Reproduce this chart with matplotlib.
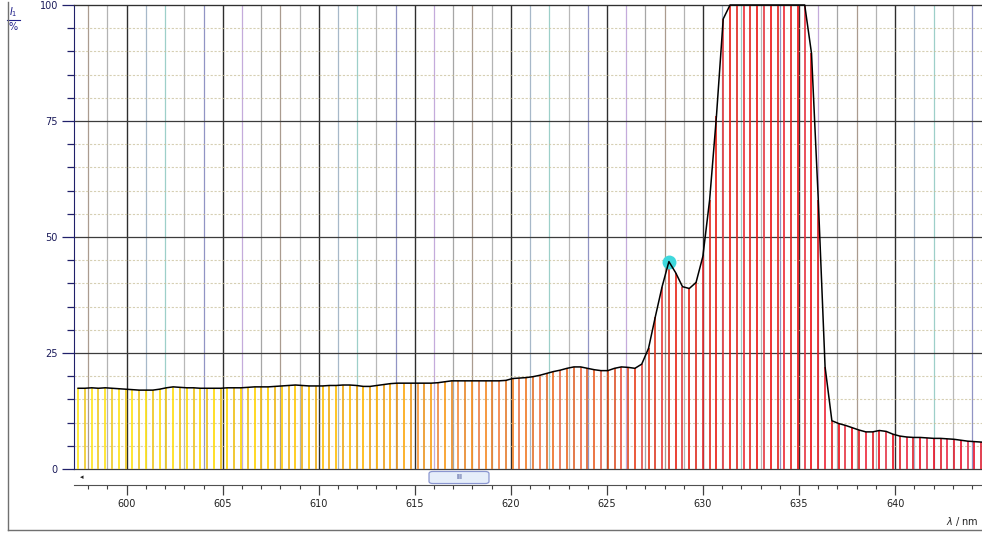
import numpy as np
import matplotlib
matplotlib.use('Agg')
import matplotlib.pyplot as plt
from matplotlib.colors import LinearSegmentedColormap, to_rgb
from matplotlib.patches import FancyBboxPatch
from matplotlib.lines import Line2D

# ---------------- data ----------------
wl_start = 597.47      # nm, first sample
wl_step = 0.3535       # nm, sampling step
intensity = [
    17.4, 17.4, 17.5, 17.4, 17.5, 17.4, 17.3, 17.2, 17.1, 17.0,
    17.0, 17.0, 17.2, 17.5, 17.7, 17.6, 17.5, 17.5, 17.4, 17.4,
    17.4, 17.4, 17.5, 17.5, 17.5, 17.6, 17.7, 17.7, 17.7, 17.8,
    17.9, 18.0, 18.1, 18.0, 17.9, 17.9, 17.9, 18.0, 18.0, 18.1,
    18.1, 18.0, 17.8, 17.8, 18.0, 18.2, 18.4, 18.5, 18.5, 18.5,
    18.5, 18.5, 18.5, 18.6, 18.8, 19.0, 19.0, 19.0, 19.0, 19.0,
    19.0, 19.0, 19.0, 19.1, 19.5, 19.6, 19.7, 19.9, 20.2, 20.6,
    21.0, 21.3, 21.7, 22.0, 22.0, 21.7, 21.4, 21.2, 21.2, 21.7,
    22.0, 21.9, 21.7, 22.6, 26.0, 32.8, 39.3, 44.7, 42.3, 39.3,
    38.9, 40.2, 45.8, 58.0, 76.0, 97.0, 100.0, 100.0, 100.0, 100.0,
    100.0, 100.0, 100.0, 100.0, 100.0, 100.0, 100.0, 100.0, 89.6, 58.0,
    22.0, 10.4, 9.8, 9.4, 8.9, 8.4, 8.0, 8.0, 8.3, 8.1,
    7.5, 7.1, 6.9, 6.8, 6.8, 6.7, 6.6, 6.6, 6.5, 6.4,
    6.2, 6.0, 5.9, 5.8,
]
x_ticks = [600, 605, 610, 615, 620, 625, 630, 635, 640]
y_ticks = [0, 25, 50, 75, 100]
marker_index = 87      # highlighted sample (cyan cursor)

wl = wl_start + wl_step * np.arange(len(intensity))
vals = np.array(intensity)

# ---------------- figure ----------------
W, H = 982, 533
fig = plt.figure(figsize=(W / 100, H / 100), dpi=100)
fig.patch.set_facecolor('white')
L, R, T, B = 74, 982, 5, 469
ax = fig.add_axes([L / W, 1 - B / H, (R - L) / W, (B - T) / H])
px_per_nm = 19.21
x0 = 600 - (126.7 - L) / px_per_nm
ax.set_xlim(x0, x0 + (R - L) / px_per_nm)
ax.set_ylim(0, 100)
ax.set_facecolor('white')

# horizontal grid
for v in range(0, 101, 5):
    if v % 25 == 0:
        ax.axhline(v, color='#3c3c3c', lw=0.9, zorder=0.6, clip_on=False)
    else:
        ax.axhline(v, color='#c9c09a', lw=0.8, ls=(0, (2, 1.5)), zorder=0.5,
                   alpha=0.75)

# vertical grid (1 nm), multicoloured
minor_cols = ['#8e7a6a', '#9a9a9a', '#9b7fcf', '#8aa0b8', '#7cc0b8',
              '#a0a0a0', '#6c70b0', '#9fbf80', '#b08fd0', '#888888']
for i, n in enumerate(range(598, 645)):
    if n % 5 == 0:
        ax.axvline(n, color='#2e2e2e', lw=1.0, zorder=0.4)
    else:
        ax.axvline(n, color=minor_cols[i % len(minor_cols)], lw=0.9,
                   zorder=0.4, alpha=0.75)

# stem colours by wavelength
cmap = LinearSegmentedColormap.from_list('spec', [
    (0.00, '#ffe61a'), (0.17, '#ffd800'), (0.32, '#ffb400'),
    (0.45, '#f58a20'), (0.58, '#e85a22'), (0.66, '#e82012'),
    (0.82, '#ee0a10'), (1.00, '#e8102c')])
xr = ax.get_xlim()
cols = []
for k, w in enumerate(wl):
    c = np.array(to_rgb(cmap((w - xr[0]) / (xr[1] - xr[0]))))
    if k % 2 == 1:
        c = 0.8 * c + 0.2 * np.array(to_rgb('#b06050'))
    if k % 3 == 2 and w > 615:
        c = 0.75 * c + 0.25 * np.array(to_rgb('#f070a0'))
    cols.append(c)
ax.vlines(wl, 0, vals, colors=cols, lw=1.2, zorder=2)

# cursor marker & curve
ax.plot(wl[marker_index], vals[marker_index], 'o', ms=10, color='#3fd8dc',
        mec='none', zorder=3)
ax.plot(wl, vals, color='black', lw=1.1, zorder=4, clip_on=False)

# spines / ticks
ax.spines['right'].set_visible(False)
ax.spines['top'].set_color('#303030')
ax.spines['left'].set_color('#20206a')
ax.spines['bottom'].set_position(('outward', 11.5))
ax.spines['bottom'].set_color('#505050')

ax.set_yticks(y_ticks)
ax.set_yticks(range(0, 101, 5), minor=True)
ax.tick_params(axis='y', which='major', length=8.6, width=0.9, color='#20206a',
               labelsize=7, labelcolor='#1a1a5a', pad=3)
ax.tick_params(axis='y', which='minor', length=5, width=0.9, color='#20206a')
ax.set_xticks(x_ticks)
ax.set_xticks(range(598, 645), minor=True)
ax.tick_params(axis='x', which='major', length=7, width=0.9, color='#404040',
               labelsize=7, labelcolor='#202020', pad=3)
ax.tick_params(axis='x', which='minor', length=3, width=0.8, color='#404040')

# scrollbar decoration
sb = FancyBboxPatch((430 / W, 1 - 483 / H), 58 / W, 11 / H,
                    boxstyle='round,pad=0.001,rounding_size=0.004',
                    transform=fig.transFigure, facecolor='#e6eefa',
                    edgecolor='#8a96d0', lw=0.9)
fig.patches.append(sb)
fig.text(459 / W, 1 - 477 / H, 'III', fontsize=5, ha='center', va='center',
         color='#203080')
fig.text(82 / W, 1 - 477 / H, '\u25c2', fontsize=5, ha='center', va='center',
         color='#202020')

# axis labels
fig.text(979 / W, 1 - 521 / H, '$\\lambda$ / nm', fontsize=7, ha='right',
         va='center', color='#202020')
fig.text(13 / W, 1 - 12 / H, '$I_1$', fontsize=7, ha='center', va='center',
         color='#20208a')
fig.add_artist(Line2D([7 / W, 20 / W], [1 - 20 / H, 1 - 20 / H],
                      transform=fig.transFigure, color='#20208a', lw=0.8))
fig.text(13 / W, 1 - 27 / H, '%', fontsize=7, ha='center', va='center',
         color='#20208a')

# outer frame
fig.add_artist(Line2D([8 / W, 8 / W], [1 - 2 / H, 1 - 530 / H],
                      transform=fig.transFigure, color='#707070', lw=1.0))
fig.add_artist(Line2D([8 / W, 1.0], [1 - 530 / H, 1 - 530 / H],
                      transform=fig.transFigure, color='#707070', lw=1.0))

fig.savefig('out.png', dpi=100, facecolor='white')
